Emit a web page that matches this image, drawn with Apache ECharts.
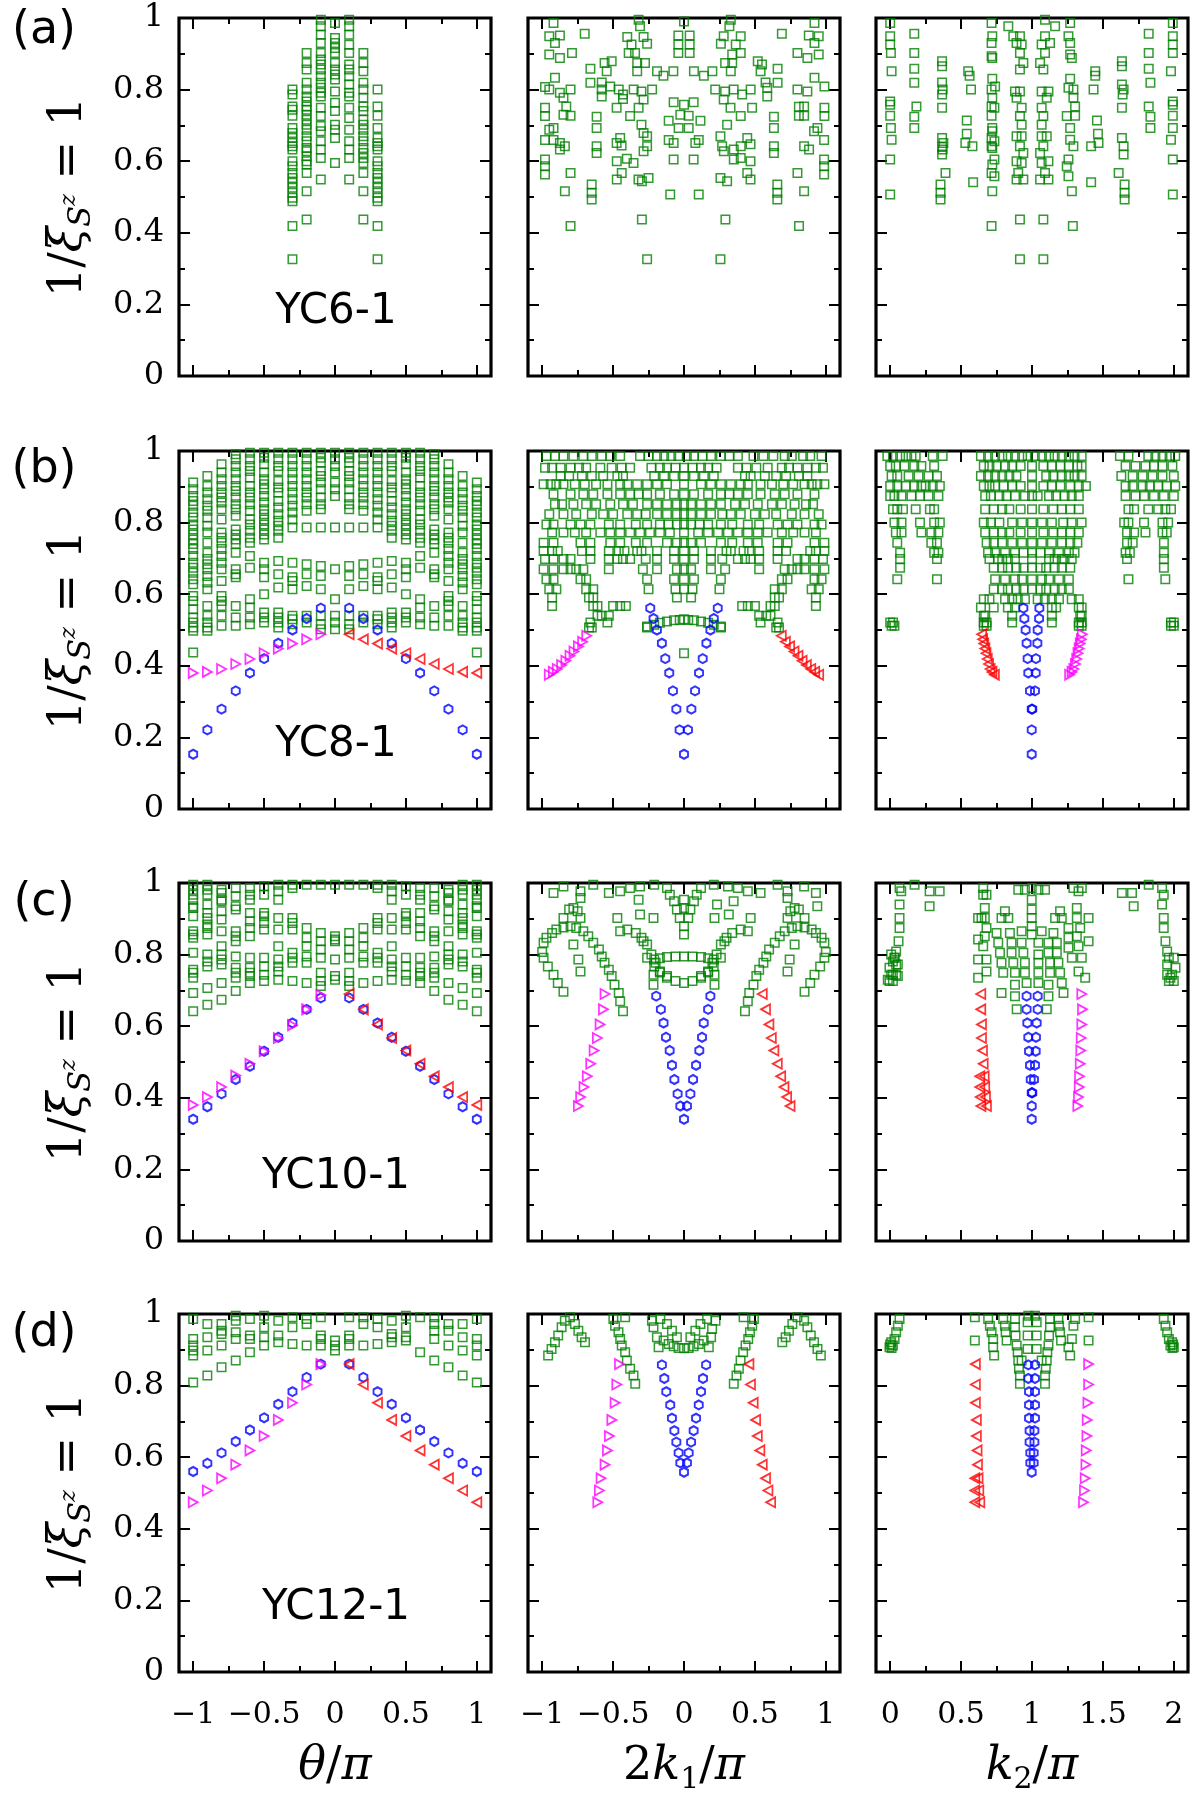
<!DOCTYPE html>
<html>
<head>
<meta charset="utf-8">
<script src="https://cdn.jsdelivr.net/npm/echarts@6/dist/echarts.min.js"></script>
<style>html,body{margin:0;padding:0;background:#fff}#chart{width:1200px;height:1800px}</style>
</head>
<body>
<div id="chart"></div>
<script>
// ---- data: 1/xi for each panel (row: YC6/8/10/12, col: theta, 2k1, k2) ----
// column form: [x, [y...]]
const a1Green = [
  [-0.3, [0.80,0.786,0.753,0.744,0.727,0.693,0.679,0.665,0.651,0.642,0.633,0.60,0.586,0.567,0.553,0.54,0.526,0.512,0.498,0.488,0.419,0.326]],
  [-0.2, [0.902,0.874,0.856,0.819,0.80,0.781,0.767,0.753,0.744,0.73,0.716,0.702,0.688,0.67,0.656,0.637,0.628,0.614,0.60,0.591,0.567,0.516,0.437]],
  [-0.1, [0.995,0.977,0.953,0.93,0.902,0.884,0.87,0.856,0.837,0.819,0.805,0.791,0.781,0.749,0.726,0.698,0.684,0.656,0.633,0.609,0.549]],
  [0, [0.986,0.944,0.93,0.916,0.902,0.874,0.856,0.842,0.828,0.795,0.763,0.74,0.702,0.688,0.665,0.595]],
  [0.1, [0.995,0.977,0.953,0.925,0.902,0.87,0.856,0.837,0.814,0.791,0.781,0.749,0.721,0.688,0.656,0.633,0.609,0.549]],
  [0.2, [0.902,0.874,0.851,0.819,0.80,0.777,0.753,0.74,0.716,0.702,0.688,0.67,0.656,0.637,0.623,0.609,0.595,0.567,0.516,0.437]],
  [0.3, [0.80,0.753,0.727,0.693,0.665,0.651,0.642,0.633,0.60,0.586,0.567,0.553,0.54,0.526,0.512,0.498,0.488,0.419,0.326]]
];
const a2Green = [
  [-0.92,0.986],[-0.32,0.995],[-0.31,0.977],[0,0.99],[0.33,0.995],[0.32,0.977],[0.92,0.986],
  [-0.95,0.949],[-0.875,0.951],[-0.91,0.93],[-0.70,0.956],[-0.40,0.947],[-0.285,0.947],[-0.37,0.926],[-0.26,0.928],
  [-0.04,0.951],[0.04,0.951],[-0.04,0.926],[0.04,0.926],[-0.04,0.902],[0.04,0.902],
  [0.26,0.928],[0.365,0.926],[0.40,0.949],[0.28,0.949],[0.69,0.956],[0.88,0.951],[0.95,0.949],[0.92,0.93],
  [-0.95,0.898],[-0.875,0.888],[-0.79,0.902],[-0.39,0.902],[-0.345,0.902],[0.40,0.902],[0.34,0.898],[0.80,0.902],[0.87,0.888],[0.95,0.898],
  [-0.66,0.858],[-0.56,0.874],[-0.51,0.879],[-0.545,0.851],[-0.33,0.874],[-0.275,0.874],[-0.33,0.851],[-0.19,0.851],[-0.145,0.839],[-0.075,0.851],
  [0.07,0.851],[0.14,0.839],[0.20,0.851],[0.29,0.874],[0.34,0.874],[0.33,0.851],[0.52,0.879],[0.55,0.87],[0.54,0.851],[0.66,0.858],
  [-0.91,0.833],[-0.98,0.807],[-0.95,0.80],[-0.80,0.80],[-0.875,0.791],[-0.66,0.819],[-0.58,0.82],[-0.58,0.80],[-0.58,0.781],[-0.52,0.809],[-0.46,0.80],[-0.43,0.786],[-0.355,0.80],[-0.30,0.795],[-0.225,0.80],
  [0.22,0.80],[0.29,0.795],[0.35,0.80],[0.41,0.786],[0.47,0.80],[0.575,0.82],[0.587,0.805],[0.587,0.781],[0.66,0.819],[0.80,0.80],[0.87,0.795],[0.92,0.833],[0.99,0.809],
  [-0.85,0.777],[-0.83,0.753],[-0.80,0.727],[-0.85,0.73],[-0.98,0.749],[-0.98,0.726],[-0.475,0.749],[-0.43,0.774],[-0.32,0.749],[-0.38,0.726],[-0.285,0.772],
  [-0.073,0.765],[0,0.758],[0.068,0.765],[-0.026,0.73],[0.033,0.727],[-0.108,0.713],[0.116,0.713],[-0.038,0.693],[0.033,0.693],
  [0.328,0.749],[0.40,0.726],[0.48,0.749],[0.28,0.772],[-0.616,0.724],[-0.616,0.693],[0.634,0.724],[0.634,0.693],[0.81,0.752],[0.847,0.753],[0.81,0.727],[0.847,0.727],[0.99,0.749],[0.99,0.726],
  [-0.92,0.693],[-0.95,0.688],[-0.98,0.659],[-0.92,0.659],[-0.875,0.651],[-0.84,0.642],[-0.875,0.633],[-0.45,0.665],[-0.44,0.644],[-0.475,0.651],[-0.30,0.702],[-0.285,0.679],[-0.26,0.67],[-0.26,0.642],[-0.285,0.628],
  [-0.108,0.659],[-0.073,0.651],[0.08,0.651],[0.104,0.659],[0.257,0.67],[0.269,0.642],[0.281,0.628],[0.304,0.702],[0.446,0.665],[0.469,0.647],[0.40,0.642],[0.351,0.633],
  [-0.616,0.642],[-0.616,0.623],[0.634,0.642],[0.634,0.623],[0.847,0.642],[0.882,0.633],[0.941,0.693],[0.917,0.684],[0.988,0.659],
  [-0.98,0.605],[-0.98,0.586],[-0.98,0.563],[-0.80,0.567],[-0.474,0.60],[-0.403,0.607],[-0.356,0.595],[-0.474,0.549],[-0.439,0.567],[-0.321,0.549],[-0.25,0.553],[-0.297,0.544],
  [-0.073,0.605],[0.068,0.605],[0.257,0.553],[0.304,0.544],[0.351,0.605],[0.40,0.609],[0.469,0.60],[0.446,0.567],[0.469,0.549],[0.80,0.567],[0.988,0.605],[0.988,0.586],[0.988,0.563],
  [-0.84,0.516],[-0.651,0.535],[-0.651,0.512],[-0.651,0.493],[-0.097,0.507],[0.104,0.507],[0.658,0.535],[0.658,0.512],[0.658,0.493],[0.847,0.516],
  [-0.80,0.419],[-0.297,0.437],[0.292,0.437],[0.811,0.419],
  [-0.26,0.326],[0.257,0.326]
];
const a3Green = [
  [0,0.986],[0,0.949],[0,0.926],[0.005,0.902],[0.01,0.851],[0,0.767],[0,0.758],[0,0.727],[0.005,0.693],[0.01,0.66],[0,0.605],[0,0.507],
  [0.17,0.956],[0.17,0.902],[0.17,0.858],[0.17,0.819],[0.185,0.753],[0.17,0.724],[0.17,0.693],
  [0.366,0.879],[0.366,0.865],[0.366,0.82],[0.37,0.80],[0.366,0.786],[0.366,0.749],[0.366,0.665],[0.375,0.651],[0.366,0.64],[0.37,0.633],[0.366,0.619],[0.39,0.567],[0.355,0.535],[0.355,0.512],[0.355,0.493],
  [0.55,0.851],[0.56,0.839],[0.57,0.80],[0.54,0.714],[0.54,0.677],[0.53,0.651],[0.58,0.642],[0.585,0.541],
  [0.715,0.986],[0.72,0.949],[0.715,0.93],[0.72,0.888],[0.715,0.893],[0.72,0.83],[0.74,0.809],[0.715,0.80],[0.72,0.777],[0.715,0.753],[0.735,0.749],[0.715,0.727],[0.72,0.693],[0.72,0.684],[0.715,0.665],[0.735,0.656],[0.715,0.642],[0.72,0.637],[0.735,0.605],[0.72,0.591],[0.715,0.567],[0.735,0.558],[0.72,0.516],[0.715,0.419],
  [0.833,0.977],[0.868,0.949],[0.915,0.949],[0.891,0.93],[0.927,0.926],[0.915,0.902],[0.939,0.874],[0.915,0.856],[0.88,0.795],[0.915,0.795],[0.891,0.777],[0.927,0.749],[0.915,0.726],[0.927,0.702],[0.891,0.67],[0.927,0.67],[0.915,0.642],[0.939,0.623],[0.891,0.60],[0.927,0.595],[0.903,0.567],[0.891,0.549],[0.939,0.549],[0.915,0.437],[0.915,0.326],
  [1.092,0.995],[1.163,0.977],[1.092,0.949],[1.127,0.93],[1.068,0.926],[1.092,0.902],[1.057,0.874],[1.08,0.856],[1.116,0.795],[1.068,0.795],[1.104,0.777],[1.068,0.749],[1.08,0.726],[1.068,0.702],[1.104,0.67],[1.068,0.67],[1.08,0.642],[1.057,0.623],[1.116,0.60],[1.068,0.595],[1.092,0.567],[1.116,0.549],[1.057,0.549],[1.08,0.437],[1.08,0.326],
  [1.269,0.986],[1.257,0.949],[1.269,0.93],[1.269,0.898],[1.281,0.888],[1.269,0.83],[1.292,0.80],[1.257,0.805],[1.292,0.777],[1.304,0.753],[1.245,0.726],[1.304,0.727],[1.269,0.693],[1.269,0.66],[1.292,0.642],[1.257,0.605],[1.245,0.586],[1.257,0.558],[1.281,0.516],[1.288,0.419],
  [1.446,0.851],[1.446,0.839],[1.434,0.80],[1.458,0.714],[1.465,0.677],[1.469,0.651],[1.417,0.642],[1.417,0.541],
  [1.634,0.879],[1.634,0.865],[1.634,0.814],[1.646,0.80],[1.639,0.786],[1.634,0.749],[1.634,0.665],[1.646,0.642],[1.646,0.619],[1.611,0.567],[1.653,0.535],[1.653,0.512],[1.653,0.493],
  [1.823,0.956],[1.823,0.902],[1.823,0.858],[1.835,0.819],[1.823,0.753],[1.835,0.724],[1.835,0.693],
  [1.993,0.986],[1.993,0.949],[1.993,0.926],[1.993,0.902],[1.98,0.851],[1.993,0.767],[1.993,0.758],[1.993,0.727],[1.993,0.693],[1.98,0.66],[1.993,0.605],[1.993,0.507]
];

const b1Green = [
  [-1, [0.912,0.893,0.874,0.86,0.847,0.828,0.814,0.795,0.781,0.767,0.753,0.74,0.726,0.707,0.688,0.674,0.66,0.642,0.628,0.595,0.581,0.558,0.535,0.521,0.507,0.498,0.437]],
  [-0.9, [0.93,0.902,0.884,0.865,0.847,0.833,0.814,0.791,0.772,0.744,0.716,0.698,0.684,0.67,0.651,0.633,0.614,0.567,0.54,0.521,0.507,0.498]],
  [-0.8, [0.963,0.94,0.921,0.902,0.884,0.87,0.856,0.837,0.809,0.772,0.758,0.744,0.726,0.707,0.688,0.67,0.637,0.595,0.581,0.567,0.54,0.512]],
  [-0.7, [0.991,0.977,0.958,0.94,0.921,0.902,0.888,0.87,0.851,0.837,0.819,0.781,0.767,0.753,0.74,0.716,0.67,0.656,0.647,0.567,0.535,0.512]],
  [-0.6, [0.995,0.977,0.958,0.944,0.926,0.902,0.884,0.87,0.851,0.833,0.809,0.795,0.777,0.758,0.744,0.707,0.674,0.586,0.563,0.535,0.516]],
  [-0.5, [0.995,0.981,0.963,0.94,0.921,0.907,0.893,0.874,0.856,0.837,0.823,0.809,0.795,0.781,0.767,0.753,0.688,0.67,0.647,0.60,0.549,0.535,0.521]],
  [-0.4, [0.995,0.977,0.958,0.944,0.916,0.898,0.884,0.86,0.842,0.823,0.805,0.791,0.777,0.758,0.693,0.656,0.619,0.549,0.535,0.521,0.507]],
  [-0.3, [0.995,0.977,0.958,0.94,0.921,0.902,0.884,0.865,0.847,0.828,0.809,0.786,0.688,0.647,0.637,0.614,0.54,0.53,0.516]],
  [-0.2, [0.995,0.977,0.958,0.94,0.921,0.902,0.884,0.87,0.851,0.833,0.786,0.684,0.656,0.623,0.54,0.521]],
  [-0.1, [0.995,0.981,0.967,0.944,0.93,0.912,0.893,0.87,0.851,0.837,0.786,0.679,0.651,0.614,0.54,0.516,0.502]],
  [0, [0.995,0.977,0.958,0.94,0.912,0.893,0.874,0.786,0.67,0.586,0.54,0.521,0.502]],
  [0.1, [0.995,0.981,0.967,0.944,0.93,0.912,0.893,0.87,0.851,0.837,0.786,0.679,0.651,0.614,0.54,0.516,0.502]],
  [0.2, [0.995,0.977,0.958,0.94,0.921,0.902,0.884,0.87,0.851,0.833,0.786,0.684,0.656,0.623,0.54,0.521]],
  [0.3, [0.995,0.977,0.958,0.94,0.921,0.902,0.884,0.865,0.847,0.828,0.809,0.786,0.688,0.647,0.637,0.614,0.54,0.53,0.516]],
  [0.4, [0.995,0.977,0.958,0.944,0.916,0.898,0.884,0.86,0.842,0.823,0.805,0.791,0.777,0.758,0.693,0.656,0.619,0.549,0.535,0.521,0.507]],
  [0.5, [0.995,0.981,0.963,0.94,0.921,0.907,0.893,0.874,0.856,0.837,0.823,0.809,0.795,0.781,0.767,0.753,0.688,0.67,0.647,0.60,0.549,0.535,0.521]],
  [0.6, [0.995,0.977,0.958,0.944,0.926,0.902,0.884,0.87,0.851,0.833,0.809,0.795,0.777,0.758,0.744,0.707,0.674,0.586,0.563,0.535,0.516]],
  [0.7, [0.991,0.977,0.958,0.94,0.921,0.902,0.888,0.87,0.851,0.837,0.819,0.781,0.767,0.753,0.74,0.716,0.67,0.656,0.647,0.567,0.535,0.512]],
  [0.8, [0.963,0.94,0.921,0.902,0.884,0.87,0.856,0.837,0.809,0.772,0.758,0.744,0.726,0.707,0.688,0.67,0.637,0.595,0.581,0.567,0.54,0.512]],
  [0.9, [0.93,0.902,0.884,0.865,0.847,0.833,0.814,0.791,0.772,0.744,0.716,0.698,0.684,0.67,0.651,0.633,0.614,0.567,0.54,0.521,0.507,0.498]],
  [1, [0.912,0.893,0.874,0.86,0.847,0.828,0.814,0.795,0.781,0.767,0.753,0.74,0.726,0.707,0.688,0.674,0.66,0.642,0.628,0.595,0.581,0.558,0.535,0.521,0.507,0.498,0.437]]
];
const b1Blue = [[-1,0.153],[-0.9,0.221],[-0.8,0.279],[-0.7,0.33],[-0.6,0.38],[-0.5,0.42],[-0.4,0.463],[-0.3,0.50],[-0.2,0.532],[-0.1,0.561],
  [0.1,0.561],[0.2,0.532],[0.3,0.50],[0.4,0.463],[0.5,0.42],[0.6,0.38],[0.7,0.33],[0.8,0.279],[0.9,0.221],[1,0.153]];
const b1Mag = [[-1,0.38],[-0.9,0.383],[-0.8,0.391],[-0.7,0.405],[-0.6,0.419],[-0.5,0.435],[-0.4,0.448],[-0.3,0.462],[-0.2,0.474],[-0.1,0.488]];
const b1Red = [[0.1,0.488],[0.2,0.474],[0.3,0.462],[0.4,0.448],[0.5,0.435],[0.6,0.419],[0.7,0.405],[0.8,0.391],[0.9,0.383],[1,0.38]];

// row form: [y, [x...]]
const b2GreenRows = [
  [0.986, [-0.97,-0.91,-0.85,-0.78,-0.71,-0.65,-0.58,-0.52,-0.45,-0.31,-0.25,-0.19,-0.14,-0.09,-0.04,0.02,0.07,0.13,0.19,0.26,0.32,0.38,0.49,0.56,0.63,0.71,0.76,0.84,0.89,0.97]],
  [0.953, [-0.98,-0.93,-0.87,-0.80,-0.74,-0.69,-0.59,-0.51,-0.44,-0.38,-0.23,-0.17,-0.12,-0.06,0,0.06,0.12,0.17,0.23,0.38,0.44,0.51,0.59,0.69,0.74,0.80,0.87,0.93,0.98]],
  [0.93, [-0.87,-0.81,-0.72,-0.65,-0.57,-0.47,-0.43,-0.21,-0.14,-0.07,0,0.07,0.14,0.21,0.43,0.47,0.57,0.65,0.72,0.81,0.87]],
  [0.907, [-0.99,-0.94,-0.90,-0.85,-0.77,-0.70,-0.62,-0.54,-0.45,-0.40,-0.33,-0.26,-0.19,-0.12,0,0.12,0.19,0.26,0.33,0.40,0.45,0.54,0.62,0.70,0.77,0.85,0.90,0.94,0.99]],
  [0.879, [-0.92,-0.80,-0.71,-0.64,-0.54,-0.45,-0.38,-0.32,-0.26,-0.17,-0.07,0,0.07,0.17,0.26,0.32,0.38,0.45,0.54,0.64,0.71,0.80,0.92]],
  [0.851, [-0.91,-0.86,-0.78,-0.69,-0.62,-0.52,-0.43,-0.36,-0.26,-0.19,-0.12,-0.05,0,0.05,0.12,0.19,0.26,0.36,0.43,0.52,0.62,0.69,0.78,0.86,0.91]],
  [0.823, [-0.95,-0.85,-0.76,-0.65,-0.57,-0.50,-0.40,-0.33,-0.27,-0.19,-0.12,-0.05,0,0.05,0.12,0.19,0.27,0.33,0.40,0.50,0.57,0.65,0.76,0.85,0.95]],
  [0.795, [-0.97,-0.92,-0.80,-0.73,-0.66,-0.53,-0.45,-0.34,-0.26,-0.17,-0.11,-0.05,0,0.05,0.11,0.17,0.26,0.34,0.45,0.53,0.66,0.73,0.80,0.92,0.97]],
  [0.772, [-0.93,-0.85,-0.77,-0.69,-0.59,-0.52,-0.45,-0.38,-0.31,-0.24,-0.17,-0.10,0,0.10,0.17,0.24,0.31,0.38,0.45,0.52,0.59,0.69,0.77,0.85,0.93]],
  [0.744, [-0.99,-0.92,-0.73,-0.66,-0.52,-0.45,-0.34,-0.26,-0.12,-0.05,0,0.05,0.12,0.26,0.34,0.45,0.52,0.66,0.73,0.92,0.99]],
  [0.721, [-0.99,-0.93,-0.89,-0.72,-0.66,-0.53,-0.46,-0.42,-0.33,-0.30,-0.19,-0.07,0,0.07,0.19,0.30,0.33,0.42,0.46,0.53,0.66,0.72,0.89,0.93,0.99]],
  [0.698, [-0.98,-0.92,-0.85,-0.80,-0.66,-0.53,-0.47,-0.43,-0.38,-0.27,-0.19,-0.07,0,0.07,0.19,0.27,0.38,0.43,0.47,0.53,0.66,0.80,0.85,0.92,0.98]],
  [0.67, [-0.99,-0.92,-0.85,-0.80,-0.76,-0.71,-0.53,-0.29,-0.19,-0.05,0,0.05,0.19,0.29,0.53,0.71,0.76,0.80,0.85,0.92,0.99]],
  [0.642, [-0.97,-0.92,-0.73,-0.69,-0.26,-0.07,0,0.07,0.26,0.69,0.73,0.92,0.97]],
  [0.614, [-0.95,-0.90,-0.69,-0.64,-0.25,-0.06,0,0.06,0.25,0.64,0.69,0.90,0.95]],
  [0.591, [-0.93,-0.67,-0.64,-0.05,0.05,0.64,0.67,0.93]],
  [0.567, [-0.93,-0.64,-0.61,-0.50,-0.45,-0.41,0.41,0.45,0.50,0.61,0.64,0.93]],
  [0.54, [-0.61,-0.58,-0.53,0.53,0.58,0.61]],
  [0.521, [-0.66,-0.54,0.54,0.66]],
  [0.507, [-0.67,-0.65,-0.26,0.26,0.65,0.67]]
];
const b2GreenArc = [[-0.26,0.51],[-0.21,0.515],[-0.17,0.52],[-0.12,0.524],[-0.07,0.527],[-0.03,0.528],[0,0.53],[0.03,0.528],[0.07,0.527],[0.12,0.524],[0.17,0.52],[0.21,0.515],[0.26,0.51],[0,0.435]];
const b2Blue = [[-0.238,0.561],[-0.215,0.532],[-0.191,0.50],[-0.156,0.463],[-0.132,0.42],[-0.104,0.38],[-0.078,0.33],[-0.054,0.279],[-0.031,0.221],[0,0.153],
  [0.028,0.221],[0.052,0.279],[0.078,0.33],[0.106,0.38],[0.132,0.42],[0.158,0.463],[0.186,0.50],[0.21,0.532],[0.238,0.561]];
const b2Mag = [[-0.95,0.375],[-0.922,0.383],[-0.894,0.391],[-0.863,0.402],[-0.833,0.414],[-0.804,0.428],[-0.776,0.44],[-0.745,0.454],[-0.715,0.467],[-0.686,0.484]];
const b2Red = [[0.95,0.375],[0.922,0.383],[0.894,0.391],[0.863,0.402],[0.833,0.414],[0.804,0.428],[0.776,0.44],[0.745,0.454],[0.715,0.467],[0.686,0.484]];

const b3GreenRows = [
  [0.986, [-0.02,0.02,0.07,0.11,0.15,0.18,0.30,0.37,0.64,0.69,0.74,0.79,0.83,0.88,0.93,0.97,1.02,1.07,1.12,1.16,1.21,1.26,1.30,1.35,1.62,1.68,1.82,1.87,1.92,1.97,2.01]],
  [0.958, [0,0.04,0.10,0.17,0.22,0.31,0.66,0.70,0.75,0.81,0.86,0.92,1.0,1.08,1.14,1.20,1.26,1.32,1.35,1.66,1.73,1.80,1.86,1.92,1.99]],
  [0.93, [0.01,0.05,0.13,0.20,0.27,0.33,0.64,0.69,0.74,0.79,0.84,0.89,1.0,1.10,1.15,1.21,1.26,1.30,1.35,1.63,1.71,1.78,1.85,1.92,2.0]],
  [0.902, [0,0.05,0.11,0.17,0.22,0.25,0.30,0.35,0.66,0.70,0.74,0.80,0.86,0.92,1.0,1.08,1.14,1.20,1.27,1.33,1.38,1.66,1.71,1.78,1.83,1.89,1.95,2.01]],
  [0.874, [0,0.03,0.08,0.15,0.21,0.27,0.34,0.67,0.71,0.77,0.82,0.88,0.95,1.0,1.04,1.12,1.17,1.23,1.28,1.33,1.66,1.73,1.79,1.86,1.93,2.0]],
  [0.837, [0.02,0.05,0.09,0.18,0.28,0.31,0.67,0.73,0.79,0.84,0.92,1.0,1.08,1.15,1.21,1.27,1.33,1.68,1.72,1.82,1.89,1.94,1.98]],
  [0.80, [0.03,0.08,0.21,0.31,0.35,0.66,0.71,0.77,0.86,0.93,1.0,1.07,1.14,1.22,1.28,1.35,1.65,1.68,1.79,1.92,1.96]],
  [0.772, [0.04,0.08,0.22,0.29,0.34,0.67,0.73,0.79,0.84,0.92,1.0,1.08,1.15,1.21,1.27,1.33,1.67,1.72,1.80,1.92,1.95]],
  [0.744, [0.05,0.29,0.33,0.68,0.73,0.79,0.86,0.93,1.0,1.07,1.14,1.21,1.27,1.32,1.67,1.71,1.93]],
  [0.716, [0.07,0.31,0.34,0.69,0.74,0.81,0.88,0.94,1.0,1.06,1.12,1.19,1.26,1.30,1.66,1.69,1.93]],
  [0.698, [0.07,0.33,0.70,0.76,0.79,0.83,0.88,1.0,1.12,1.16,1.21,1.23,1.28,1.67,1.93]],
  [0.674, [0.07,0.73,0.79,0.83,0.89,0.94,1.0,1.06,1.10,1.16,1.21,1.27,1.93]],
  [0.642, [0.05,0.33,0.74,0.81,0.88,0.93,1.0,1.07,1.12,1.19,1.26,1.68,1.94]],
  [0.614, [0.73,0.79,0.83,0.89,0.94,1.0,1.06,1.10,1.16,1.21,1.26]],
  [0.586, [0.66,0.70,0.81,0.86,0.90,0.95,1.04,1.09,1.14,1.19,1.28,1.33]],
  [0.563, [0.64,0.73,0.83,0.88,1.14,1.17,1.33,1.35]],
  [0.54, [0.66,0.67,0.86,1.14,1.34,1.35]],
  [0.521, [0,0.02,0.66,0.68,0.86,1.14,1.33,1.35,1.98,2.0]],
  [0.512, [0.01,0.03,0.66,0.68,1.33,1.35,1.98,2.0]]
];
const b3Blue = [[0.939,0.561],[1.052,0.561],[0.946,0.532],[1.05,0.532],[0.955,0.50],[1.04,0.50],[0.962,0.463],[1.038,0.463],[0.969,0.42],[1.028,0.42],
  [0.974,0.38],[1.026,0.38],[0.986,0.33],[1.021,0.33],[0.998,0.279],[1.002,0.279],[0.998,0.221],[0.998,0.153]];
const b3Red = [[0.645,0.488],[0.652,0.474],[0.66,0.462],[0.668,0.448],[0.676,0.435],[0.685,0.419],[0.694,0.405],[0.705,0.391],[0.718,0.383],[0.735,0.375]];
const b3Mag = [[1.355,0.488],[1.348,0.474],[1.34,0.462],[1.332,0.448],[1.324,0.435],[1.315,0.419],[1.306,0.405],[1.295,0.391],[1.282,0.383],[1.265,0.375]];

const c1Green = [
  [-1, [0.995,0.981,0.967,0.953,0.935,0.93,0.907,0.865,0.856,0.847,0.805,0.758,0.749,0.735,0.693,0.642]],
  [-0.9, [0.995,0.981,0.967,0.94,0.916,0.902,0.884,0.874,0.856,0.80,0.781,0.767,0.707,0.66]],
  [-0.8, [0.981,0.972,0.953,0.949,0.921,0.898,0.865,0.823,0.80,0.786,0.772,0.721,0.674]],
  [-0.7, [0.986,0.963,0.935,0.926,0.865,0.851,0.837,0.795,0.763,0.749,0.735,0.698]],
  [-0.6, [0.986,0.967,0.953,0.916,0.893,0.874,0.851,0.791,0.763,0.749,0.74,0.721]],
  [-0.5, [0.991,0.967,0.916,0.907,0.888,0.87,0.791,0.767,0.744,0.726]],
  [-0.4, [0.995,0.977,0.953,0.902,0.87,0.823,0.786,0.767,0.753,0.73]],
  [-0.3, [0.995,0.986,0.902,0.888,0.87,0.805,0.791,0.777,0.726]],
  [-0.2, [0.995,0.874,0.847,0.823,0.795,0.777,0.721]],
  [-0.1, [0.995,0.86,0.837,0.814,0.791,0.749,0.726,0.712]],
  [0, [0.995,0.851,0.842,0.837,0.786,0.74,0.73]],
  [0.1, [0.995,0.86,0.837,0.814,0.791,0.749,0.726,0.712]],
  [0.2, [0.995,0.874,0.847,0.823,0.795,0.777,0.721]],
  [0.3, [0.995,0.986,0.902,0.888,0.87,0.805,0.791,0.777,0.726]],
  [0.4, [0.995,0.977,0.953,0.902,0.87,0.823,0.786,0.767,0.753,0.73]],
  [0.5, [0.991,0.967,0.916,0.907,0.888,0.87,0.791,0.767,0.744,0.726]],
  [0.6, [0.986,0.967,0.953,0.916,0.893,0.874,0.851,0.791,0.763,0.749,0.74,0.721]],
  [0.7, [0.986,0.963,0.935,0.926,0.865,0.851,0.837,0.795,0.763,0.749,0.735,0.698]],
  [0.8, [0.981,0.972,0.953,0.949,0.921,0.898,0.865,0.823,0.80,0.786,0.772,0.721,0.674]],
  [0.9, [0.995,0.981,0.967,0.94,0.916,0.902,0.884,0.874,0.856,0.80,0.781,0.767,0.707,0.66]],
  [1, [0.995,0.981,0.967,0.953,0.935,0.93,0.907,0.865,0.856,0.847,0.805,0.758,0.749,0.735,0.693,0.642]]
];
const c1Blue = [[-1,0.34],[-0.9,0.375],[-0.8,0.411],[-0.7,0.451],[-0.6,0.488],[-0.5,0.53],[-0.4,0.569],[-0.3,0.609],[-0.2,0.647],[-0.1,0.679],
  [0.1,0.679],[0.2,0.647],[0.3,0.609],[0.4,0.569],[0.5,0.53],[0.6,0.488],[0.7,0.451],[0.8,0.411],[0.9,0.375],[1,0.34]];
const c1Mag = [[-1,0.38],[-0.9,0.402],[-0.8,0.43],[-0.7,0.462],[-0.6,0.495],[-0.5,0.53],[-0.4,0.567],[-0.3,0.603],[-0.2,0.647],[-0.1,0.687]];
const c1Red = [[0.1,0.69],[0.2,0.647],[0.3,0.605],[0.4,0.567],[0.5,0.532],[0.6,0.495],[0.7,0.46],[0.8,0.43],[0.9,0.402],[1,0.38]];

const c2Green = [
  [-0.85,0.696],[-0.89,0.721],[-0.92,0.744],[-0.96,0.767],[-0.99,0.791],[-1.0,0.807],[-0.99,0.833],[-0.97,0.847],[-0.93,0.86],[-0.90,0.87],[-0.85,0.876],[-0.80,0.879],[-0.76,0.874],[-0.71,0.865],[-0.675,0.851],[-0.64,0.833],[-0.60,0.814],[-0.58,0.795],[-0.56,0.777],[-0.53,0.758],[-0.51,0.74],[-0.49,0.716],[-0.46,0.693],[-0.45,0.67],[-0.43,0.642],
  [0.85,0.696],[0.89,0.721],[0.92,0.744],[0.96,0.767],[0.99,0.791],[1.0,0.807],[0.99,0.833],[0.97,0.847],[0.93,0.86],[0.90,0.87],[0.85,0.876],[0.80,0.879],[0.76,0.874],[0.71,0.865],[0.675,0.851],[0.64,0.833],[0.60,0.814],[0.58,0.795],[0.56,0.777],[0.53,0.758],[0.51,0.74],[0.49,0.716],[0.46,0.693],[0.45,0.67],[0.43,0.642],
  [-0.85,0.902],[-0.81,0.926],[-0.78,0.93],[-0.75,0.921],[-0.73,0.902],[-0.78,0.828],[-0.745,0.786],[-0.73,0.753],
  [0.85,0.902],[0.81,0.926],[0.78,0.93],[0.75,0.921],[0.73,0.902],[0.78,0.828],[0.745,0.786],[0.73,0.753],
  [-0.45,0.865],[-0.40,0.87],[-0.34,0.86],[-0.30,0.847],[-0.26,0.828],[-0.23,0.80],[-0.20,0.777],[-0.17,0.753],[-0.12,0.735],[-0.06,0.726],[0,0.721],[0.06,0.726],[0.12,0.735],[0.17,0.753],[0.20,0.777],[0.23,0.80],[0.26,0.828],[0.30,0.847],[0.34,0.86],[0.40,0.87],[0.45,0.865],
  [-0.26,0.791],[-0.21,0.786],[-0.17,0.79],[-0.12,0.793],[-0.06,0.795],[0,0.795],[0.06,0.795],[0.12,0.793],[0.17,0.79],[0.21,0.786],[0.26,0.791],
  [-0.21,0.767],[-0.17,0.75],[-0.12,0.74],[0.12,0.74],[0.17,0.75],[0.21,0.767],
  [-0.215,0.744],[-0.215,0.716],[0.215,0.744],[0.215,0.716],
  [0,0.856],[0,0.879],[-0.03,0.902],[0.03,0.902],[-0.05,0.926],[0.045,0.926],[-0.07,0.949],[0.07,0.949],[-0.10,0.967],[0.09,0.967],[-0.12,0.986],[0.12,0.986],[0,0.953],[0,0.93],
  [-0.45,0.977],[-0.38,0.986],[-0.31,0.99],[-0.21,0.995],[0.21,0.995],[0.31,0.99],[0.38,0.986],[0.45,0.977],
  [-0.92,0.972],[-0.85,0.99],[-0.73,0.977],[-0.73,0.958],[-0.64,0.995],[-0.53,0.972],[-0.47,0.902],[-0.32,0.953],[-0.31,0.912],[-0.215,0.902],[-0.285,0.837],
  [0.233,0.94],[0.316,0.912],[0.35,0.949],[0.47,0.902],[0.54,0.972],[0.66,0.995],[0.73,0.958],[0.73,0.977],[0.847,0.99],[0.93,0.972],[0.94,0.935],[0.285,0.837],[0.215,0.902]
];
const c2Blue = [[-0.196,0.684],[-0.163,0.647],[-0.144,0.609],[-0.127,0.569],[-0.101,0.532],[-0.085,0.491],[-0.068,0.451],[-0.045,0.411],[-0.026,0.377],[0,0.34],
  [0.021,0.377],[0.045,0.411],[0.064,0.451],[0.085,0.491],[0.108,0.532],[0.127,0.569],[0.139,0.609],[0.17,0.647],[0.186,0.684]];
const c2Mag = [[-0.557,0.69],[-0.568,0.647],[-0.592,0.605],[-0.611,0.567],[-0.634,0.532],[-0.658,0.495],[-0.682,0.46],[-0.705,0.43],[-0.729,0.402],[-0.745,0.377]];
const c2Red = [[0.552,0.69],[0.575,0.647],[0.599,0.605],[0.616,0.567],[0.634,0.532],[0.658,0.495],[0.682,0.46],[0.705,0.43],[0.724,0.402],[0.748,0.377]];

const c3Green = [
  [0.656,0.986],[0.656,0.967],[0.679,0.967],[0.667,0.93],[0.667,0.902],[0.644,0.902],[0.62,0.902],[0.679,0.874],[0.667,0.851],[0.62,0.842],[0.656,0.823],[0.62,0.786],[0.679,0.786],[0.62,0.735],[0.679,0.753],
  [0.785,0.902],[0.809,0.921],[0.75,0.86],[0.762,0.833],[0.774,0.805],[0.785,0.777],[0.797,0.749],[0.785,0.693],
  [0.833,0.902],[0.844,0.86],[0.856,0.833],[0.856,0.805],[0.868,0.777],[0.88,0.749],[0.88,0.716],[0.88,0.684],[0.892,0.647],
  [0.927,0.865],[0.927,0.833],[0.939,0.805],[0.95,0.777],[0.95,0.749],[0.962,0.721],
  [0.998,0.986],[0.903,0.981],[0.95,0.981],[1.092,0.981],[1.045,0.981],[0.998,0.953],[0.998,0.926],[0.998,0.902],[0.998,0.879],[0.998,0.856],
  [1.045,0.833],[1.045,0.80],[1.045,0.777],[1.045,0.749],[1.045,0.721],
  [1.068,0.865],[1.116,0.833],[1.116,0.805],[1.127,0.777],[1.127,0.749],[1.116,0.716],[1.116,0.684],[1.104,0.647],
  [1.151,0.86],[1.163,0.902],[1.198,0.921],[1.21,0.902],[1.175,0.833],[1.175,0.805],[1.186,0.777],[1.198,0.749],[1.21,0.721],[1.222,0.693],
  [1.257,0.874],[1.257,0.847],[1.257,0.819],[1.281,0.791],[1.316,0.902],[1.316,0.93],[1.34,0.874],[1.316,0.851],[1.328,0.823],[1.351,0.791],[1.328,0.753],[1.375,0.735],[1.292,0.986],[1.328,0.977],[1.399,0.902],[1.399,0.837],[1.351,0.986],
  [0.066,0.986],[0.078,0.977],[0.066,0.94],[0.066,0.902],[0.066,0.874],[0.059,0.837],[0.042,0.809],[0.031,0.791],[0.054,0.772],[0.042,0.744],[0.019,0.726],[0.172,0.995],[0.278,0.977],[0.349,0.977],[0.278,0.935],
  [0.007,0.80],[0.019,0.781],[-0.005,0.763],[0.007,0.744],[-0.005,0.726],[0.031,0.791],[0.042,0.772],[0.054,0.74],[0.019,0.744],[-0.017,0.73],
  [1.634,0.972],[1.705,0.972],[1.717,0.935],[1.823,0.995],[1.917,0.986],[1.929,0.967],[1.917,0.94],[1.929,0.902],[1.929,0.874],[1.941,0.837],[1.953,0.809],[1.965,0.791],[1.953,0.772],[1.953,0.744],[1.965,0.726],[1.988,0.744],[2.0,0.791],[2.012,0.763],[2.0,0.726],[1.976,0.735]
];
const c3Blue = [[0.962,0.684],[1.04,0.684],[0.962,0.647],[1.04,0.647],[0.967,0.609],[1.033,0.609],[0.974,0.569],[1.028,0.569],[0.979,0.53],[1.026,0.53],
  [0.986,0.491],[1.021,0.491],[0.991,0.451],[1.014,0.451],[0.998,0.414],[1.002,0.414],[0.998,0.377],[0.998,0.34]];
const c3Red = [[0.639,0.69],[0.639,0.647],[0.644,0.605],[0.644,0.567],[0.651,0.532],[0.656,0.495],[0.663,0.46],[0.667,0.43],[0.672,0.402],[0.679,0.377],
  [0.632,0.46],[0.632,0.43],[0.635,0.402],[0.64,0.377]];
const c3Mag = [[1.351,0.69],[1.356,0.647],[1.351,0.605],[1.347,0.567],[1.344,0.532],[1.34,0.495],[1.335,0.46],[1.333,0.43],[1.328,0.402],[1.323,0.377]];

const d1Green = [
  [-1, [0.986,0.93,0.912,0.898,0.884,0.809]],
  [-0.9, [0.972,0.935,0.898,0.828]],
  [-0.8, [0.972,0.953,0.944,0.912,0.851]],
  [-0.7, [0.995,0.981,0.949,0.93,0.87]],
  [-0.6, [0.986,0.94,0.93,0.893]],
  [-0.5, [0.995,0.963,0.935,0.912]],
  [-0.4, [0.981,0.94,0.921]],
  [-0.3, [0.991,0.963,0.916]],
  [-0.2, [0.986,0.972,0.912]],
  [-0.1, [0.991,0.94,0.93,0.912]],
  [0, [0.926,0.912,0.898]],
  [0.1, [0.991,0.94,0.93,0.912]],
  [0.2, [0.991,0.972,0.912]],
  [0.3, [0.986,0.963,0.916]],
  [0.4, [0.981,0.944,0.935,0.921]],
  [0.5, [0.995,0.963,0.935,0.926]],
  [0.6, [0.991,0.893]],
  [0.7, [0.991,0.972,0.953,0.93,0.87]],
  [0.8, [0.972,0.953,0.912,0.851]],
  [0.9, [0.972,0.935,0.898,0.828]],
  [1, [0.986,0.93,0.912,0.884,0.809]]
];
const d1Blue = [[-1,0.56],[-0.9,0.583],[-0.8,0.612],[-0.7,0.644],[-0.6,0.676],[-0.5,0.71],[-0.4,0.748],[-0.3,0.783],[-0.2,0.823],[-0.1,0.86],
  [0.1,0.86],[0.2,0.823],[0.3,0.783],[0.4,0.748],[0.5,0.71],[0.6,0.676],[0.7,0.644],[0.8,0.612],[0.9,0.583],[1,0.56]];
const d1Mag = [[-1,0.474],[-0.9,0.507],[-0.8,0.541],[-0.7,0.579],[-0.6,0.619],[-0.5,0.659],[-0.4,0.704],[-0.3,0.752],[-0.2,0.803],[-0.1,0.86]];
const d1Red = [[0.1,0.86],[0.2,0.803],[0.3,0.752],[0.4,0.704],[0.5,0.659],[0.6,0.619],[0.7,0.579],[0.8,0.541],[0.9,0.507],[1,0.474]];

const d2Green = [
  [-0.958,0.884],[-0.934,0.902],[-0.91,0.921],[-0.887,0.94],[-0.863,0.963],[-0.84,0.981],[-0.804,0.991],[-0.769,0.972],[-0.745,0.953],[-0.722,0.935],[-0.698,0.921],
  [-0.498,0.986],[-0.486,0.967],[-0.462,0.949],[-0.45,0.93],[-0.439,0.912],[-0.415,0.893],[-0.403,0.87],[-0.38,0.847],[-0.356,0.828],[-0.344,0.805],[-0.415,0.991],
  [-0.226,0.981],[-0.215,0.963],[-0.191,0.935],[-0.179,0.907],[-0.144,0.926],[-0.108,0.916],[-0.073,0.91],[-0.038,0.905],[0,0.904],[0.033,0.905],[0.068,0.91],[0.104,0.916],[0.139,0.926],[0.175,0.907],[0.191,0.935],[0.198,0.958],[0.222,0.981],
  [-0.12,0.972],[-0.085,0.953],[-0.05,0.935],[0.045,0.935],[0.08,0.953],[0.116,0.972],[-0.167,0.986],[0.163,0.986],
  [0.493,0.986],[0.481,0.967],[0.465,0.949],[0.453,0.93],[0.434,0.912],[0.417,0.893],[0.399,0.87],[0.387,0.847],[0.37,0.828],[0.351,0.805],[0.42,0.991],
  [0.965,0.884],[0.941,0.902],[0.917,0.921],[0.894,0.94],[0.87,0.963],[0.847,0.981],[0.80,0.991],[0.764,0.972],[0.74,0.953],[0.717,0.935],[0.693,0.921]
];
const d2Blue = [[-0.156,0.858],[-0.139,0.82],[-0.125,0.783],[-0.097,0.746],[-0.085,0.709],[-0.068,0.674],[-0.054,0.642],[-0.038,0.612],[-0.026,0.584],[0,0.558],
  [0.021,0.584],[0.033,0.612],[0.05,0.642],[0.068,0.674],[0.085,0.709],[0.104,0.746],[0.12,0.783],[0.134,0.82],[0.156,0.858]];
const d2Mag = [[-0.455,0.86],[-0.474,0.803],[-0.486,0.752],[-0.509,0.704],[-0.526,0.659],[-0.54,0.619],[-0.557,0.579],[-0.585,0.541],[-0.597,0.507],[-0.608,0.474]];
const d2Red = [[0.458,0.86],[0.469,0.803],[0.488,0.752],[0.505,0.704],[0.517,0.659],[0.535,0.619],[0.552,0.579],[0.575,0.541],[0.592,0.507],[0.611,0.474]];

const d3Green = [
  [0.066,0.986],[0.054,0.967],[0.042,0.949],[0.031,0.93],[0.019,0.912],[-0.005,0.907],[0.007,0.921],[0,0.915],[0.01,0.905],
  [1.929,0.986],[1.941,0.967],[1.953,0.949],[1.965,0.93],[1.976,0.912],[2.0,0.907],[1.988,0.921],[1.995,0.915],[1.99,0.905],
  [0.597,0.991],[0.597,0.926],[0.691,0.986],[0.703,0.967],[0.715,0.949],[0.726,0.93],[0.726,0.907],[0.733,0.884],
  [0.797,0.986],[0.809,0.967],[0.814,0.949],[0.821,0.926],
  [0.88,0.986],[0.88,0.963],[0.884,0.94],[0.892,0.912],[0.899,0.893],[0.903,0.87],[0.908,0.847],[0.915,0.828],[0.915,0.805],
  [0.969,0.977],[0.969,0.94],[0.969,0.902],[1.033,0.977],[1.033,0.94],[1.033,0.902],
  [1.092,0.805],[1.092,0.828],[1.097,0.847],[1.104,0.87],[1.108,0.893],[1.116,0.912],[1.12,0.94],[1.127,0.963],[1.127,0.986],
  [1.186,0.986],[1.191,0.967],[1.198,0.949],[1.205,0.926],[1.257,0.907],[1.269,0.884],[1.281,0.93],[1.292,0.967],[1.304,0.986],[1.399,0.991],[1.399,0.926],
  [1.021,0.995],[0.974,0.995],[0.927,0.87],[1.068,0.87]
];
const d3Blue = [[0.974,0.858],[1.021,0.858],[0.974,0.82],[1.021,0.82],[0.979,0.783],[1.021,0.783],[0.979,0.746],[1.021,0.746],[0.979,0.709],[1.021,0.709],
  [0.983,0.674],[1.017,0.674],[0.983,0.642],[1.017,0.642],[0.988,0.612],[1.012,0.612],[0.988,0.584],[1.012,0.584],[0.998,0.558]];
const d3Red = [[0.601,0.86],[0.601,0.803],[0.601,0.752],[0.608,0.704],[0.608,0.659],[0.613,0.619],[0.616,0.579],[0.62,0.541],[0.625,0.507],[0.632,0.474],
  [0.597,0.541],[0.597,0.507],[0.597,0.474]];
const d3Mag = [[1.399,0.86],[1.399,0.803],[1.394,0.752],[1.389,0.704],[1.387,0.659],[1.382,0.619],[1.38,0.579],[1.375,0.541],[1.37,0.507],[1.363,0.474]];

// ticks / labels
const xMajor = [[-1,-0.5,0,0.5,1],[-1,-0.5,0,0.5,1],[0,0.5,1,1.5,2]];
const xMinor = [[-0.75,-0.25,0.25,0.75],[-0.75,-0.25,0.25,0.75],[0.25,0.75,1.25,1.75]];
const xExtent = [[-1.1,1.1],[-1.1,1.1],[-0.1,2.1]];
const panelTags = ['(a)','(b)','(c)','(d)'];
const sizeTags = ['YC6-1','YC8-1','YC10-1','YC12-1'];

function fromCols(list) { const out = []; list.forEach(([x, ys]) => ys.forEach(y => out.push([x, y]))); return out; }
function fromRows(list) { const out = []; list.forEach(([y, xs]) => xs.forEach(x => out.push([x, y]))); return out; }

// panels in row-major order
const panels = [
  {green: fromCols(a1Green)},
  {green: a2Green},
  {green: a3Green},
  {green: fromCols(b1Green), blue: b1Blue, mag: b1Mag, red: b1Red},
  {green: fromRows(b2GreenRows).concat(b2GreenArc), blue: b2Blue, mag: b2Mag, red: b2Red},
  {green: fromRows(b3GreenRows), blue: b3Blue, mag: b3Mag, red: b3Red},
  {green: fromCols(c1Green), blue: c1Blue, mag: c1Mag, red: c1Red},
  {green: c2Green, blue: c2Blue, mag: c2Mag, red: c2Red},
  {green: c3Green, blue: c3Blue, mag: c3Mag, red: c3Red},
  {green: fromCols(d1Green), blue: d1Blue, mag: d1Mag, red: d1Red},
  {green: d2Green, blue: d2Blue, mag: d2Mag, red: d2Red},
  {green: d3Green, blue: d3Blue, mag: d3Mag, red: d3Red}
];

// ---- layout ----
const colLeft = [179, 528, 876];
const rowTop = [18, 451, 883, 1314];
const GW = 312, GH = 358;
const serif = 'DejaVu Serif';

const HEX = 'path://M0,-1L0.866,-0.5L0.866,0.5L0,1L-0.866,0.5L-0.866,-0.5Z';
const TRI_R = 'path://M0,0L1,0.5L0,1Z';
const TRI_L = 'path://M1,0L0,0.5L1,1Z';
const markers = {
  green: {symbol: 'rect', size: 8.5, color: '#008000', bw: 1.5},
  blue: {symbol: HEX, size: [8, 9], color: '#0000ff', bw: 2},
  mag: {symbol: TRI_R, size: [9, 10], color: '#ff00ff', bw: 1.8},
  red: {symbol: TRI_L, size: [9, 10], color: '#ff0000', bw: 1.8}
};

const mathRich = {
  n: {fontFamily: serif, fontSize: 46, color: '#000', lineHeight: 56},
  i: {fontFamily: serif, fontStyle: 'italic', fontSize: 46, color: '#000', lineHeight: 56},
  sb: {fontFamily: serif, fontSize: 30, color: '#000', lineHeight: 30, verticalAlign: 'bottom'},
  si: {fontFamily: serif, fontStyle: 'italic', fontSize: 31, color: '#000', lineHeight: 30, verticalAlign: 'bottom'},
  sp: {fontFamily: serif, fontStyle: 'italic', fontSize: 22, color: '#000', lineHeight: 22, verticalAlign: 'middle'}
};
const xNames = ['{i|θ}{n|/}{i|π}', '{n|2}{i|k}{sb|1}{n|/}{i|π}', '{i|k}{sb|2}{n|/}{i|π}'];
const yName = '{n|1/}{i|ξ}{si|S}{sp|z}{n| = 1}';

const fmtX = v => (v < 0 ? '\u2212' + (-v) : String(v));
const fmtY = v => String(+v.toFixed(1));
const tickLine = {color: '#000', width: 2};

const grids = [], xAxes = [], yAxes = [], series = [], graphic = [];
for (let r = 0; r < 4; r++) {
  for (let c = 0; c < 3; c++) {
    const g = grids.length;
    grids.push({left: colLeft[c], top: rowTop[r], width: GW, height: GH, show: true, borderColor: '#000', borderWidth: 3.2,
      backgroundColor: 'transparent', containLabel: false, outerBoundsMode: 'none'});
    const base = {gridIndex: g, type: 'value', min: xExtent[c][0], max: xExtent[c][1],
      axisLine: {show: false, onZero: false}, splitLine: {show: false}};
    const last = r === 3;
    ['bottom', 'top'].forEach(pos => {
      xAxes.push(Object.assign({}, base, {
        position: pos,
        axisTick: {show: true, inside: true, length: 11, customValues: xMajor[c], lineStyle: tickLine},
        axisLabel: {show: last && pos === 'bottom', customValues: xMajor[c], formatter: fmtX, color: '#000',
          fontFamily: serif, fontSize: 30, margin: 28, hideOverlap: false},
        name: last && pos === 'bottom' ? xNames[c] : '', nameLocation: 'middle', nameGap: 67, nameTextStyle: {rich: mathRich}
      }));
      xAxes.push(Object.assign({}, base, {
        position: pos,
        axisTick: {show: true, inside: true, length: 6, customValues: xMinor[c], lineStyle: tickLine},
        axisLabel: {show: false}
      }));
    });
    ['left', 'right'].forEach(pos => {
      yAxes.push({
        gridIndex: g, type: 'value', min: 0, max: 1, interval: 0.2, position: pos,
        axisLine: {show: false, onZero: false}, splitLine: {show: false},
        axisTick: {show: true, inside: true, length: 11, lineStyle: tickLine},
        minorTick: {show: true, splitNumber: 2, length: 6, lineStyle: tickLine},
        axisLabel: {show: c === 0 && pos === 'left', formatter: fmtY, color: '#000', fontFamily: serif, fontSize: 32, margin: 15},
        name: c === 0 && pos === 'left' ? yName : '', nameLocation: 'middle', nameRotate: 90, nameGap: 82,
        nameTextStyle: {rich: mathRich}
      });
    });
    const p = panels[g];
    ['green', 'blue', 'mag', 'red'].forEach(k => {
      if (!p[k]) return;
      const m = markers[k];
      series.push({
        type: 'scatter', xAxisIndex: g * 4, yAxisIndex: g * 2, data: p[k],
        symbol: m.symbol, symbolSize: m.size, silent: true,
        itemStyle: {color: 'rgba(0,0,0,0)', borderColor: m.color, borderWidth: m.bw},
        emphasis: {disabled: true}
      });
    });
  }
  graphic.push({type: 'text', x: 44, y: [31, 470, 903, 1334][r],
    style: {text: panelTags[r], font: '46px "DejaVu Sans"', fill: '#000', textAlign: 'center', textVerticalAlign: 'middle', verticalAlign: 'middle'}});
  graphic.push({type: 'text', x: 336, y: rowTop[r] + 294,
    style: {text: sizeTags[r], font: '42px "DejaVu Sans"', fill: '#000', textAlign: 'center', textVerticalAlign: 'middle', verticalAlign: 'middle'}});
}

const chart = echarts.init(document.getElementById('chart'), null, {renderer: 'canvas'});
chart.setOption({
  animation: false,
  backgroundColor: '#fff',
  grid: grids,
  xAxis: xAxes,
  yAxis: yAxes,
  series: series,
  graphic: graphic
});
</script>
</body>
</html>
